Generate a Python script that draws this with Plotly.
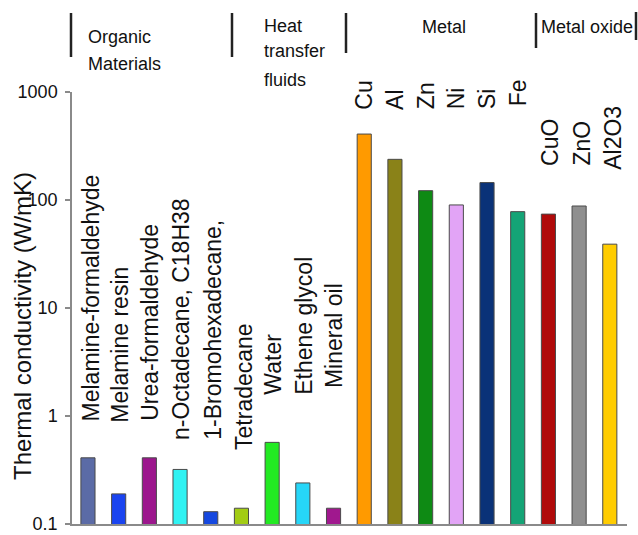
import plotly.graph_objects as go

# ---------------- data ----------------
materials = ["Melamine-formaldehyde", "Melamine resin", "Urea-formaldehyde",
             "n-Octadecane, C18H38", "1-Bromohexadecane,", "Tetradecane",
             "Water", "Ethene glycol", "Mineral oil",
             "Cu", "Al", "Zn", "Ni", "Si", "Fe",
             "CuO", "ZnO", "Al2O3"]
conductivity = [0.41, 0.19, 0.41, 0.32, 0.13, 0.14,
                0.57, 0.24, 0.14,
                408, 238, 122, 90, 145, 78,
                74, 88, 39]
bar_colors = ["#5b6ba6", "#1a44f0", "#9c168d", "#30f2f2", "#1548e0", "#a2cc14",
              "#22ea22", "#26d6f8", "#a0188e",
              "#ff9a00", "#8a8218", "#0e8a14", "#e2a4f6", "#0a3278", "#14a476",
              "#b00a0a", "#8f8f8f", "#ffcc00"]
group_names = ["Organic", "Materials", "Heat", "transfer", "fluids", "Metal", "Metal oxide"]
tick_values = [0.1, 1, 10, 100, 1000]
tick_text = ["0.1", "1", "10", "100", "1000"]
y_title = "Thermal conductivity (W/mK)"

# ---------------- layout helpers ----------------
W, H = 638, 535
L, R, T, B = 72, 11, 92, 11
pw, ph = W - L - R, H - T - B
YMIN, YMAX = -1.0, 3.0


def px(xp):
    return (xp - L) / pw


def py(yp):
    return (H - B - yp) / ph


def logpos(yp):
    # pixel row -> log10 data coordinate on the y axis
    return YMIN + (H - B - yp) / ph * (YMAX - YMIN)


# bottom pixel rows of the rotated material labels
label_bottom_px = [423, 425, 423, 442, 442, 452, 397, 397, 390,
                   112, 112, 111, 111, 111, 108, 168, 168, 172]
label_xshift = [3, 1, 0, 1, 2, 2, 0, 1, 0, -1, 0, 0, 0, 0, 0, 1, 2, 3]

xs = list(range(len(materials)))

fig = go.Figure()
fig.add_trace(go.Bar(
    x=xs, y=conductivity, width=0.46,
    marker=dict(color=bar_colors, line=dict(color="#4a4a4a", width=1)),
    hoverinfo="skip", showlegend=False,
))

font_family = "Liberation Sans, Arial, sans-serif"
annotations = []
for i, name in enumerate(materials):
    annotations.append(dict(
        x=xs[i], y=logpos(label_bottom_px[i]), xref="x", yref="y",
        text=name, textangle=-90, showarrow=False,
        xanchor="center", yanchor="bottom", xshift=label_xshift[i],
        font=dict(family=font_family, size=23, color="#111"),
    ))

# group headings (one annotation per line)
heading_pos = [(86, 37, "left"), (86, 64, "left"),
               (262, 26, "left"), (262, 51, "left"), (262, 80, "left"),
               (444, 27, "center"), (539, 27, "left")]
for name, (hx, hy, anc) in zip(group_names, heading_pos):
    annotations.append(dict(
        x=px(hx), y=py(hy), xref="paper", yref="paper",
        text=name, showarrow=False, xanchor=anc, yanchor="middle",
        font=dict(family=font_family, size=18, color="#111"),
    ))

# y axis title
annotations.append(dict(
    x=px(22), y=py(326), xref="paper", yref="paper",
    text=y_title, textangle=-90, showarrow=False,
    xanchor="center", yanchor="middle",
    font=dict(family=font_family, size=24, color="#111"),
))

# separator bars between groups
shapes = []
for sx, y0, y1 in [(71, 13, 57), (232, 13, 57), (346, 13, 53), (536, 13, 48), (636, 12, 40)]:
    shapes.append(dict(type="line", xref="paper", yref="paper",
                       x0=px(sx), x1=px(sx), y0=py(y0), y1=py(y1),
                       line=dict(color="#222", width=2.5)))

fig.update_layout(
    width=W, height=H,
    margin=dict(l=L, r=R, t=T, b=B),
    paper_bgcolor="white", plot_bgcolor="white",
    annotations=annotations, shapes=shapes,
    bargap=0.5,
)
fig.update_xaxes(range=[-0.52, 17.56], showticklabels=False, ticks="",
                 showgrid=False, zeroline=False, automargin=False,
                 showline=True, linecolor="#8a8a8a", linewidth=1.5)
fig.update_yaxes(type="log", range=[YMIN, YMAX], tickvals=tick_values, ticktext=tick_text,
                 ticks="outside", ticklen=5, tickcolor="#8a8a8a", tickwidth=1.5,
                 ticklabeloverflow="allow", ticklabelstandoff=4, automargin=False,
                 showgrid=False, zeroline=False,
                 showline=True, linecolor="#8a8a8a", linewidth=1.5,
                 tickfont=dict(family=font_family, size=18, color="#111"))

fig.write_html("out.html", config={"displayModeBar": False},
               post_script="document.body.style.margin='0';document.body.style.overflow='hidden';")
